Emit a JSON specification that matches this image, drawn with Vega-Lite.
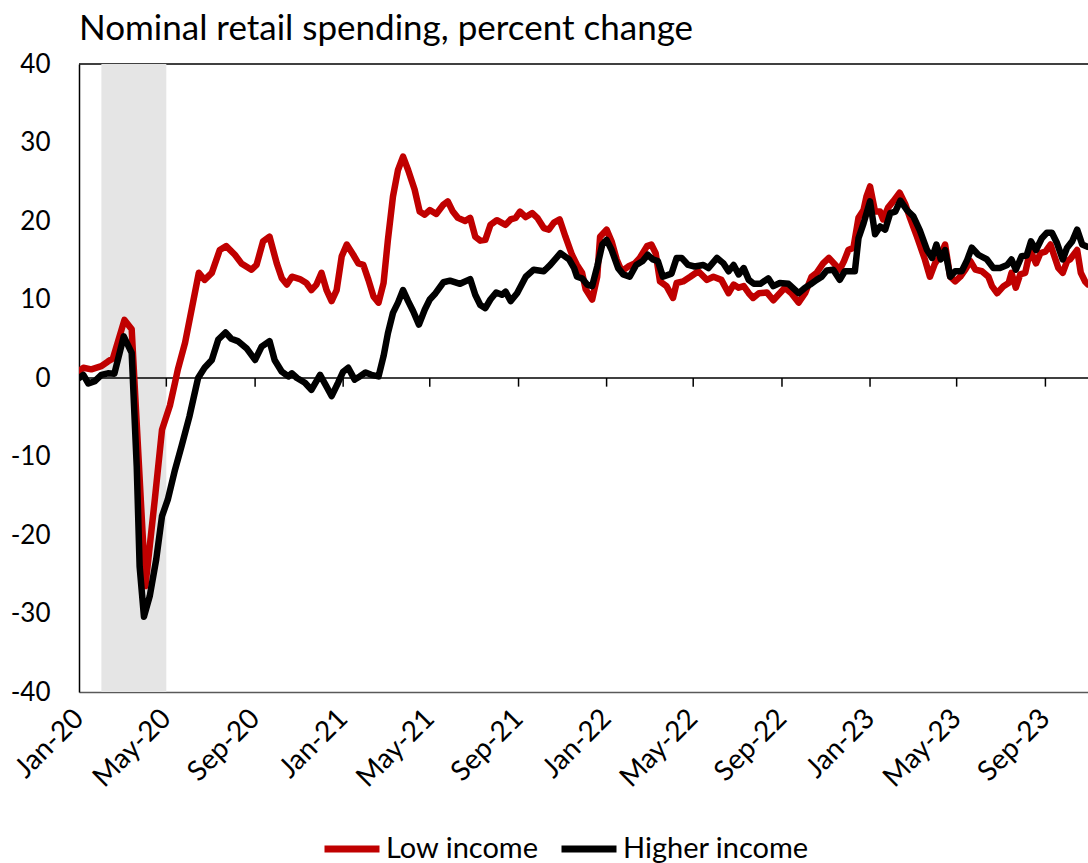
{
"$schema": "https://vega.github.io/schema/vega-lite/v6.json",
"autosize": {"type": "none"},
"width": 1009,
"height": 628,
"padding": {"left": 79, "top": 64, "right": 0, "bottom": 171},
"background": "white",
"config": {
  "view": {"stroke": null},
  "font": "Lato",
  "axis": {"labelFont": "Lato", "labelColor": "black", "titleFont": "Lato"},
  "axisY": {"labelFontSize": 26, "ticks": false, "tickSize": 0, "labelPadding": 29, "domainColor": "black", "domainWidth": 1.5, "gridColor": "#d9d9d9", "gridWidth": 1.5},
  "axisX": {"labelFontSize": 28, "ticks": false, "tickSize": 0, "grid": false, "domainColor": "#595959", "domainWidth": 1.5, "labelAngle": -45, "labelAlign": "right", "labelBaseline": "middle", "labelPadding": 22, "labelOverlap": false, "labelFlush": false, "labelBound": false}
},
"title": {"text": "Nominal retail spending,  percent change", "anchor": "start", "frame": "group", "fontSize": 35, "font": "Lato", "fontWeight": "normal", "color": "black", "offset": 4},
"data": {"values": [
{"date":"2020-01-01","series":"Low income","value":0.9},
{"date":"2020-01-07","series":"Low income","value":1.3},
{"date":"2020-01-18","series":"Low income","value":1.1},
{"date":"2020-02-01","series":"Low income","value":1.5},
{"date":"2020-02-10","series":"Low income","value":2.1},
{"date":"2020-02-17","series":"Low income","value":2.5},
{"date":"2020-03-04","series":"Low income","value":7.4},
{"date":"2020-03-14","series":"Low income","value":6.2},
{"date":"2020-04-02","series":"Low income","value":-26.5},
{"date":"2020-04-15","series":"Low income","value":-15.5},
{"date":"2020-04-25","series":"Low income","value":-6.6},
{"date":"2020-05-06","series":"Low income","value":-3.5},
{"date":"2020-05-13","series":"Low income","value":-0.6},
{"date":"2020-05-17","series":"Low income","value":1.1},
{"date":"2020-05-27","series":"Low income","value":4.5},
{"date":"2020-06-05","series":"Low income","value":8.7},
{"date":"2020-06-15","series":"Low income","value":13.4},
{"date":"2020-06-23","series":"Low income","value":12.5},
{"date":"2020-07-03","series":"Low income","value":13.4},
{"date":"2020-07-14","series":"Low income","value":16.3},
{"date":"2020-07-23","series":"Low income","value":16.8},
{"date":"2020-08-04","series":"Low income","value":15.7},
{"date":"2020-08-13","series":"Low income","value":14.6},
{"date":"2020-08-27","series":"Low income","value":13.8},
{"date":"2020-09-03","series":"Low income","value":14.4},
{"date":"2020-09-12","series":"Low income","value":17.4},
{"date":"2020-09-21","series":"Low income","value":18.0},
{"date":"2020-10-01","series":"Low income","value":14.6},
{"date":"2020-10-08","series":"Low income","value":12.7},
{"date":"2020-10-15","series":"Low income","value":11.9},
{"date":"2020-10-22","series":"Low income","value":12.9},
{"date":"2020-11-02","series":"Low income","value":12.6},
{"date":"2020-11-11","series":"Low income","value":12.1},
{"date":"2020-11-18","series":"Low income","value":11.2},
{"date":"2020-11-25","series":"Low income","value":11.9},
{"date":"2020-12-02","series":"Low income","value":13.4},
{"date":"2020-12-09","series":"Low income","value":11.2},
{"date":"2020-12-16","series":"Low income","value":9.8},
{"date":"2020-12-23","series":"Low income","value":11.2},
{"date":"2020-12-30","series":"Low income","value":15.5},
{"date":"2021-01-06","series":"Low income","value":17.0},
{"date":"2021-01-15","series":"Low income","value":15.7},
{"date":"2021-01-22","series":"Low income","value":14.6},
{"date":"2021-01-29","series":"Low income","value":14.4},
{"date":"2021-02-05","series":"Low income","value":12.5},
{"date":"2021-02-12","series":"Low income","value":10.4},
{"date":"2021-02-19","series":"Low income","value":9.6},
{"date":"2021-02-26","series":"Low income","value":12.1},
{"date":"2021-03-04","series":"Low income","value":17.6},
{"date":"2021-03-11","series":"Low income","value":23.1},
{"date":"2021-03-18","series":"Low income","value":26.5},
{"date":"2021-03-25","series":"Low income","value":28.2},
{"date":"2021-04-01","series":"Low income","value":26.5},
{"date":"2021-04-10","series":"Low income","value":24.0},
{"date":"2021-04-17","series":"Low income","value":21.2},
{"date":"2021-04-24","series":"Low income","value":20.8},
{"date":"2021-05-01","series":"Low income","value":21.4},
{"date":"2021-05-10","series":"Low income","value":20.9},
{"date":"2021-05-20","series":"Low income","value":22.1},
{"date":"2021-05-26","series":"Low income","value":22.5},
{"date":"2021-06-02","series":"Low income","value":21.2},
{"date":"2021-06-09","series":"Low income","value":20.4},
{"date":"2021-06-19","series":"Low income","value":20.0},
{"date":"2021-06-26","series":"Low income","value":20.4},
{"date":"2021-07-03","series":"Low income","value":18.0},
{"date":"2021-07-10","series":"Low income","value":17.5},
{"date":"2021-07-17","series":"Low income","value":17.6},
{"date":"2021-07-24","series":"Low income","value":19.5},
{"date":"2021-08-02","series":"Low income","value":20.1},
{"date":"2021-08-14","series":"Low income","value":19.5},
{"date":"2021-08-21","series":"Low income","value":20.2},
{"date":"2021-08-28","series":"Low income","value":20.4},
{"date":"2021-09-03","series":"Low income","value":21.2},
{"date":"2021-09-11","series":"Low income","value":20.5},
{"date":"2021-09-20","series":"Low income","value":21.0},
{"date":"2021-09-27","series":"Low income","value":20.4},
{"date":"2021-10-06","series":"Low income","value":19.1},
{"date":"2021-10-13","series":"Low income","value":18.9},
{"date":"2021-10-20","series":"Low income","value":19.8},
{"date":"2021-10-28","series":"Low income","value":20.2},
{"date":"2021-11-05","series":"Low income","value":18.0},
{"date":"2021-11-14","series":"Low income","value":15.7},
{"date":"2021-11-21","series":"Low income","value":14.4},
{"date":"2021-11-28","series":"Low income","value":13.4},
{"date":"2021-12-03","series":"Low income","value":11.3},
{"date":"2021-12-12","series":"Low income","value":10.0},
{"date":"2021-12-19","series":"Low income","value":12.9},
{"date":"2021-12-23","series":"Low income","value":18.0},
{"date":"2022-01-01","series":"Low income","value":18.9},
{"date":"2022-01-08","series":"Low income","value":17.4},
{"date":"2022-01-15","series":"Low income","value":15.1},
{"date":"2022-01-22","series":"Low income","value":13.6},
{"date":"2022-01-31","series":"Low income","value":14.2},
{"date":"2022-02-09","series":"Low income","value":14.6},
{"date":"2022-02-16","series":"Low income","value":15.3},
{"date":"2022-02-26","series":"Low income","value":16.8},
{"date":"2022-03-04","series":"Low income","value":17.0},
{"date":"2022-03-10","series":"Low income","value":15.9},
{"date":"2022-03-16","series":"Low income","value":12.3},
{"date":"2022-03-25","series":"Low income","value":11.7},
{"date":"2022-04-03","series":"Low income","value":10.2},
{"date":"2022-04-08","series":"Low income","value":12.1},
{"date":"2022-04-17","series":"Low income","value":12.3},
{"date":"2022-04-27","series":"Low income","value":12.9},
{"date":"2022-05-08","series":"Low income","value":13.6},
{"date":"2022-05-20","series":"Low income","value":12.5},
{"date":"2022-05-29","series":"Low income","value":12.9},
{"date":"2022-06-09","series":"Low income","value":12.5},
{"date":"2022-06-19","series":"Low income","value":10.8},
{"date":"2022-06-26","series":"Low income","value":11.9},
{"date":"2022-07-03","series":"Low income","value":11.5},
{"date":"2022-07-10","series":"Low income","value":11.7},
{"date":"2022-07-17","series":"Low income","value":10.8},
{"date":"2022-07-23","series":"Low income","value":10.2},
{"date":"2022-07-31","series":"Low income","value":10.8},
{"date":"2022-08-11","series":"Low income","value":10.9},
{"date":"2022-08-20","series":"Low income","value":9.9},
{"date":"2022-08-27","series":"Low income","value":10.6},
{"date":"2022-09-05","series":"Low income","value":11.5},
{"date":"2022-09-14","series":"Low income","value":10.8},
{"date":"2022-09-24","series":"Low income","value":9.6},
{"date":"2022-10-03","series":"Low income","value":10.8},
{"date":"2022-10-12","series":"Low income","value":12.9},
{"date":"2022-10-19","series":"Low income","value":13.4},
{"date":"2022-10-28","series":"Low income","value":14.6},
{"date":"2022-11-05","series":"Low income","value":15.3},
{"date":"2022-11-14","series":"Low income","value":14.4},
{"date":"2022-11-20","series":"Low income","value":13.8},
{"date":"2022-11-26","series":"Low income","value":14.9},
{"date":"2022-12-02","series":"Low income","value":16.3},
{"date":"2022-12-09","series":"Low income","value":16.6},
{"date":"2022-12-16","series":"Low income","value":20.4},
{"date":"2022-12-23","series":"Low income","value":21.4},
{"date":"2022-12-27","series":"Low income","value":23.1},
{"date":"2023-01-01","series":"Low income","value":24.4},
{"date":"2023-01-08","series":"Low income","value":21.2},
{"date":"2023-01-15","series":"Low income","value":21.2},
{"date":"2023-01-19","series":"Low income","value":20.2},
{"date":"2023-01-26","series":"Low income","value":21.7},
{"date":"2023-02-02","series":"Low income","value":22.5},
{"date":"2023-02-11","series":"Low income","value":23.6},
{"date":"2023-02-19","series":"Low income","value":22.1},
{"date":"2023-02-25","series":"Low income","value":20.5},
{"date":"2023-03-07","series":"Low income","value":18.0},
{"date":"2023-03-18","series":"Low income","value":15.1},
{"date":"2023-03-25","series":"Low income","value":12.9},
{"date":"2023-04-01","series":"Low income","value":14.6},
{"date":"2023-04-08","series":"Low income","value":15.5},
{"date":"2023-04-15","series":"Low income","value":17.0},
{"date":"2023-04-22","series":"Low income","value":12.9},
{"date":"2023-04-29","series":"Low income","value":12.3},
{"date":"2023-05-06","series":"Low income","value":12.9},
{"date":"2023-05-13","series":"Low income","value":13.8},
{"date":"2023-05-20","series":"Low income","value":14.9},
{"date":"2023-05-27","series":"Low income","value":13.8},
{"date":"2023-06-05","series":"Low income","value":13.6},
{"date":"2023-06-14","series":"Low income","value":12.9},
{"date":"2023-06-19","series":"Low income","value":11.7},
{"date":"2023-06-26","series":"Low income","value":10.8},
{"date":"2023-07-05","series":"Low income","value":11.7},
{"date":"2023-07-12","series":"Low income","value":12.1},
{"date":"2023-07-16","series":"Low income","value":13.4},
{"date":"2023-07-22","series":"Low income","value":11.5},
{"date":"2023-07-28","series":"Low income","value":13.2},
{"date":"2023-08-04","series":"Low income","value":13.4},
{"date":"2023-08-11","series":"Low income","value":16.3},
{"date":"2023-08-19","series":"Low income","value":14.6},
{"date":"2023-08-25","series":"Low income","value":15.9},
{"date":"2023-09-01","series":"Low income","value":16.1},
{"date":"2023-09-08","series":"Low income","value":17.0},
{"date":"2023-09-12","series":"Low income","value":15.9},
{"date":"2023-09-19","series":"Low income","value":14.0},
{"date":"2023-09-25","series":"Low income","value":13.4},
{"date":"2023-10-01","series":"Low income","value":14.9},
{"date":"2023-10-05","series":"Low income","value":15.1},
{"date":"2023-10-15","series":"Low income","value":16.3},
{"date":"2023-10-20","series":"Low income","value":13.4},
{"date":"2023-10-26","series":"Low income","value":12.3},
{"date":"2023-10-30","series":"Low income","value":11.9},
{"date":"2023-11-05","series":"Low income","value":11.8},
{"date":"2020-01-01","series":"Higher income","value":0.0},
{"date":"2020-01-07","series":"Higher income","value":0.4},
{"date":"2020-01-14","series":"Higher income","value":-0.7},
{"date":"2020-01-23","series":"Higher income","value":-0.4},
{"date":"2020-02-01","series":"Higher income","value":0.4},
{"date":"2020-02-10","series":"Higher income","value":0.6},
{"date":"2020-02-19","series":"Higher income","value":0.55},
{"date":"2020-03-03","series":"Higher income","value":5.3},
{"date":"2020-03-14","series":"Higher income","value":3.2},
{"date":"2020-03-21","series":"Higher income","value":-11.3},
{"date":"2020-03-25","series":"Higher income","value":-24.0},
{"date":"2020-03-31","series":"Higher income","value":-30.4},
{"date":"2020-04-08","series":"Higher income","value":-27.8},
{"date":"2020-04-17","series":"Higher income","value":-23.1},
{"date":"2020-04-25","series":"Higher income","value":-17.6},
{"date":"2020-05-03","series":"Higher income","value":-15.5},
{"date":"2020-05-13","series":"Higher income","value":-11.7},
{"date":"2020-05-22","series":"Higher income","value":-8.7},
{"date":"2020-06-02","series":"Higher income","value":-4.9},
{"date":"2020-06-14","series":"Higher income","value":0.0},
{"date":"2020-06-23","series":"Higher income","value":1.3},
{"date":"2020-07-03","series":"Higher income","value":2.3},
{"date":"2020-07-12","series":"Higher income","value":4.9},
{"date":"2020-07-22","series":"Higher income","value":5.8},
{"date":"2020-07-30","series":"Higher income","value":5.0},
{"date":"2020-08-08","series":"Higher income","value":4.7},
{"date":"2020-08-20","series":"Higher income","value":3.8},
{"date":"2020-09-01","series":"Higher income","value":2.3},
{"date":"2020-09-10","series":"Higher income","value":4.0},
{"date":"2020-09-21","series":"Higher income","value":4.7},
{"date":"2020-09-28","series":"Higher income","value":2.3},
{"date":"2020-10-08","series":"Higher income","value":0.8},
{"date":"2020-10-17","series":"Higher income","value":0.2},
{"date":"2020-10-22","series":"Higher income","value":0.6},
{"date":"2020-10-29","series":"Higher income","value":0.0},
{"date":"2020-11-09","series":"Higher income","value":-0.6},
{"date":"2020-11-18","series":"Higher income","value":-1.5},
{"date":"2020-11-30","series":"Higher income","value":0.4},
{"date":"2020-12-09","series":"Higher income","value":-1.1},
{"date":"2020-12-16","series":"Higher income","value":-2.3},
{"date":"2020-12-25","series":"Higher income","value":-0.6},
{"date":"2021-01-01","series":"Higher income","value":0.8},
{"date":"2021-01-08","series":"Higher income","value":1.3},
{"date":"2021-01-17","series":"Higher income","value":-0.2},
{"date":"2021-01-24","series":"Higher income","value":0.2},
{"date":"2021-02-01","series":"Higher income","value":0.7},
{"date":"2021-02-09","series":"Higher income","value":0.4},
{"date":"2021-02-19","series":"Higher income","value":0.2},
{"date":"2021-02-26","series":"Higher income","value":2.8},
{"date":"2021-03-04","series":"Higher income","value":5.7},
{"date":"2021-03-11","series":"Higher income","value":8.3},
{"date":"2021-03-18","series":"Higher income","value":9.6},
{"date":"2021-03-25","series":"Higher income","value":11.2},
{"date":"2021-04-01","series":"Higher income","value":9.8},
{"date":"2021-04-08","series":"Higher income","value":8.5},
{"date":"2021-04-16","series":"Higher income","value":6.8},
{"date":"2021-04-24","series":"Higher income","value":8.7},
{"date":"2021-05-01","series":"Higher income","value":10.0},
{"date":"2021-05-09","series":"Higher income","value":10.8},
{"date":"2021-05-20","series":"Higher income","value":12.2},
{"date":"2021-05-29","series":"Higher income","value":12.4},
{"date":"2021-06-12","series":"Higher income","value":12.0},
{"date":"2021-06-26","series":"Higher income","value":12.6},
{"date":"2021-07-03","series":"Higher income","value":10.6},
{"date":"2021-07-10","series":"Higher income","value":9.3},
{"date":"2021-07-17","series":"Higher income","value":8.9},
{"date":"2021-07-24","series":"Higher income","value":10.0},
{"date":"2021-08-01","series":"Higher income","value":10.9},
{"date":"2021-08-09","series":"Higher income","value":10.6},
{"date":"2021-08-14","series":"Higher income","value":11.0},
{"date":"2021-08-21","series":"Higher income","value":9.8},
{"date":"2021-08-30","series":"Higher income","value":10.8},
{"date":"2021-09-11","series":"Higher income","value":12.9},
{"date":"2021-09-22","series":"Higher income","value":13.8},
{"date":"2021-10-06","series":"Higher income","value":13.6},
{"date":"2021-10-15","series":"Higher income","value":14.4},
{"date":"2021-10-29","series":"Higher income","value":15.9},
{"date":"2021-11-10","series":"Higher income","value":15.1},
{"date":"2021-11-17","series":"Higher income","value":14.0},
{"date":"2021-11-21","series":"Higher income","value":12.9},
{"date":"2021-11-28","series":"Higher income","value":12.7},
{"date":"2021-12-05","series":"Higher income","value":11.9},
{"date":"2021-12-12","series":"Higher income","value":11.7},
{"date":"2021-12-19","series":"Higher income","value":14.2},
{"date":"2021-12-26","series":"Higher income","value":17.0},
{"date":"2022-01-01","series":"Higher income","value":17.6},
{"date":"2022-01-08","series":"Higher income","value":16.3},
{"date":"2022-01-17","series":"Higher income","value":14.0},
{"date":"2022-01-24","series":"Higher income","value":13.2},
{"date":"2022-02-02","series":"Higher income","value":12.9},
{"date":"2022-02-11","series":"Higher income","value":14.4},
{"date":"2022-02-20","series":"Higher income","value":14.9},
{"date":"2022-02-27","series":"Higher income","value":15.7},
{"date":"2022-03-06","series":"Higher income","value":15.1},
{"date":"2022-03-13","series":"Higher income","value":14.9},
{"date":"2022-03-20","series":"Higher income","value":12.9},
{"date":"2022-04-01","series":"Higher income","value":13.3},
{"date":"2022-04-08","series":"Higher income","value":15.3},
{"date":"2022-04-15","series":"Higher income","value":15.3},
{"date":"2022-04-24","series":"Higher income","value":14.4},
{"date":"2022-05-03","series":"Higher income","value":14.2},
{"date":"2022-05-15","series":"Higher income","value":14.4},
{"date":"2022-05-22","series":"Higher income","value":14.0},
{"date":"2022-06-03","series":"Higher income","value":15.3},
{"date":"2022-06-12","series":"Higher income","value":14.6},
{"date":"2022-06-19","series":"Higher income","value":13.6},
{"date":"2022-06-26","series":"Higher income","value":14.4},
{"date":"2022-07-03","series":"Higher income","value":13.2},
{"date":"2022-07-10","series":"Higher income","value":14.0},
{"date":"2022-07-17","series":"Higher income","value":12.5},
{"date":"2022-07-24","series":"Higher income","value":12.0},
{"date":"2022-08-02","series":"Higher income","value":12.0},
{"date":"2022-08-13","series":"Higher income","value":12.7},
{"date":"2022-08-20","series":"Higher income","value":11.7},
{"date":"2022-08-29","series":"Higher income","value":12.1},
{"date":"2022-09-10","series":"Higher income","value":12.0},
{"date":"2022-09-24","series":"Higher income","value":10.8},
{"date":"2022-10-03","series":"Higher income","value":11.5},
{"date":"2022-10-10","series":"Higher income","value":11.9},
{"date":"2022-10-19","series":"Higher income","value":12.5},
{"date":"2022-10-26","series":"Higher income","value":12.9},
{"date":"2022-11-02","series":"Higher income","value":13.7},
{"date":"2022-11-11","series":"Higher income","value":13.8},
{"date":"2022-11-20","series":"Higher income","value":12.5},
{"date":"2022-11-27","series":"Higher income","value":13.6},
{"date":"2022-12-04","series":"Higher income","value":13.6},
{"date":"2022-12-11","series":"Higher income","value":13.6},
{"date":"2022-12-16","series":"Higher income","value":17.8},
{"date":"2022-12-23","series":"Higher income","value":19.7},
{"date":"2023-01-01","series":"Higher income","value":22.5},
{"date":"2023-01-08","series":"Higher income","value":18.3},
{"date":"2023-01-15","series":"Higher income","value":19.3},
{"date":"2023-01-22","series":"Higher income","value":18.9},
{"date":"2023-01-29","series":"Higher income","value":21.0},
{"date":"2023-02-05","series":"Higher income","value":21.2},
{"date":"2023-02-12","series":"Higher income","value":22.6},
{"date":"2023-02-21","series":"Higher income","value":21.4},
{"date":"2023-03-02","series":"Higher income","value":20.6},
{"date":"2023-03-11","series":"Higher income","value":18.8},
{"date":"2023-03-21","series":"Higher income","value":16.3},
{"date":"2023-03-28","series":"Higher income","value":15.3},
{"date":"2023-04-03","series":"Higher income","value":17.0},
{"date":"2023-04-09","series":"Higher income","value":15.1},
{"date":"2023-04-15","series":"Higher income","value":16.3},
{"date":"2023-04-22","series":"Higher income","value":12.9},
{"date":"2023-04-29","series":"Higher income","value":13.6},
{"date":"2023-05-08","series":"Higher income","value":13.6},
{"date":"2023-05-15","series":"Higher income","value":14.9},
{"date":"2023-05-22","series":"Higher income","value":16.6},
{"date":"2023-05-31","series":"Higher income","value":15.7},
{"date":"2023-06-12","series":"Higher income","value":15.1},
{"date":"2023-06-21","series":"Higher income","value":14.0},
{"date":"2023-06-30","series":"Higher income","value":14.0},
{"date":"2023-07-10","series":"Higher income","value":14.4},
{"date":"2023-07-16","series":"Higher income","value":15.1},
{"date":"2023-07-22","series":"Higher income","value":13.8},
{"date":"2023-07-30","series":"Higher income","value":15.5},
{"date":"2023-08-06","series":"Higher income","value":15.6},
{"date":"2023-08-12","series":"Higher income","value":17.4},
{"date":"2023-08-19","series":"Higher income","value":16.3},
{"date":"2023-08-27","series":"Higher income","value":17.8},
{"date":"2023-09-03","series":"Higher income","value":18.5},
{"date":"2023-09-10","series":"Higher income","value":18.5},
{"date":"2023-09-17","series":"Higher income","value":17.2},
{"date":"2023-09-25","series":"Higher income","value":15.1},
{"date":"2023-10-01","series":"Higher income","value":16.6},
{"date":"2023-10-08","series":"Higher income","value":17.4},
{"date":"2023-10-15","series":"Higher income","value":18.9},
{"date":"2023-10-22","series":"Higher income","value":17.0},
{"date":"2023-10-30","series":"Higher income","value":16.7},
{"date":"2023-11-05","series":"Higher income","value":16.6}
]},
"layer": [
  {
    "data": {"values": [{"edge": "top"}]},
    "mark": {"type": "rule", "color": "black", "strokeWidth": 1.5},
    "encoding": {"y": {"datum": 40, "type": "quantitative", "scale": {"domain": [-40, 40]}, "axis": {"title": null, "values": [-40, -30, -20, -10, 0, 10, 20, 30, 40], "labelExpr": "'' + datum.value"}}}
  },
  {
    "data": {"values": [{"start": "2020-02-01", "end": "2020-05-01"}]},
    "mark": {"type": "rect", "color": "#e5e5e5"},
    "encoding": {
      "x": {"field": "start", "type": "temporal",
        "scale": {"type": "utc", "domain": [{"year": 2020, "month": 1, "date": 1, "utc": true}, {"year": 2023, "month": 10, "date": 30, "utc": true}]},
        "axis": {"title": null, "format": "%b-%y", "values": [
          {"year": 2020, "month": 1, "date": 1, "utc": true}, {"year": 2020, "month": 5, "date": 1, "utc": true}, {"year": 2020, "month": 9, "date": 1, "utc": true},
          {"year": 2021, "month": 1, "date": 1, "utc": true}, {"year": 2021, "month": 5, "date": 1, "utc": true}, {"year": 2021, "month": 9, "date": 1, "utc": true},
          {"year": 2022, "month": 1, "date": 1, "utc": true}, {"year": 2022, "month": 5, "date": 1, "utc": true}, {"year": 2022, "month": 9, "date": 1, "utc": true},
          {"year": 2023, "month": 1, "date": 1, "utc": true}, {"year": 2023, "month": 5, "date": 1, "utc": true}, {"year": 2023, "month": 9, "date": 1, "utc": true}]}},
      "x2": {"field": "end"}
    }
  },
  {
    "data": {"values": [{"edge": "zero"}]},
    "mark": {"type": "rule", "color": "black", "strokeWidth": 1.5},
    "encoding": {"y": {"datum": 0, "type": "quantitative"}}
  },
  {
    "data": {"values": [{"date": "2020-05-01"}, {"date": "2020-09-01"}, {"date": "2021-01-01"}, {"date": "2021-05-01"}, {"date": "2021-09-01"}, {"date": "2022-01-01"}, {"date": "2022-05-01"}, {"date": "2022-09-01"}, {"date": "2023-01-01"}, {"date": "2023-05-01"}, {"date": "2023-09-01"}]},
    "mark": {"type": "rule", "color": "black", "strokeWidth": 1.5},
    "encoding": {"x": {"field": "date", "type": "temporal", "axis": {"title": null}}, "y": {"datum": 0, "type": "quantitative"}, "y2": {"datum": -1.1}}
  },
  {
    "transform": [{"filter": "datum.series === 'Low income'"}],
    "mark": {"type": "line", "strokeWidth": 6.5, "clip": true, "strokeJoin": "round", "strokeCap": "round"},
    "encoding": {
      "x": {"field": "date", "type": "temporal", "axis": {"title": null}},
      "y": {"field": "value", "type": "quantitative", "axis": {"title": null}},
      "color": {"field": "series", "type": "nominal",
        "scale": {"domain": ["Low income", "Higher income"], "range": ["#c00000", "#000000"]},
        "legend": {"orient": "none", "legendX": 242, "legendY": 754, "direction": "horizontal", "title": null, "symbolType": "stroke", "symbolSize": 3025, "symbolStrokeWidth": 7, "labelFontSize": 29, "labelFont": "Lato", "labelColor": "black", "labelLimit": 400, "columnPadding": 8, "labelOffset": 3, "padding": 0}}
    }
  },
  {
    "transform": [{"filter": "datum.series === 'Higher income'"}],
    "mark": {"type": "line", "strokeWidth": 6.5, "clip": true, "strokeJoin": "round", "strokeCap": "round"},
    "encoding": {
      "x": {"field": "date", "type": "temporal", "axis": {"title": null}},
      "y": {"field": "value", "type": "quantitative", "axis": {"title": null}},
      "color": {"field": "series", "type": "nominal"}
    }
  }
]
}
